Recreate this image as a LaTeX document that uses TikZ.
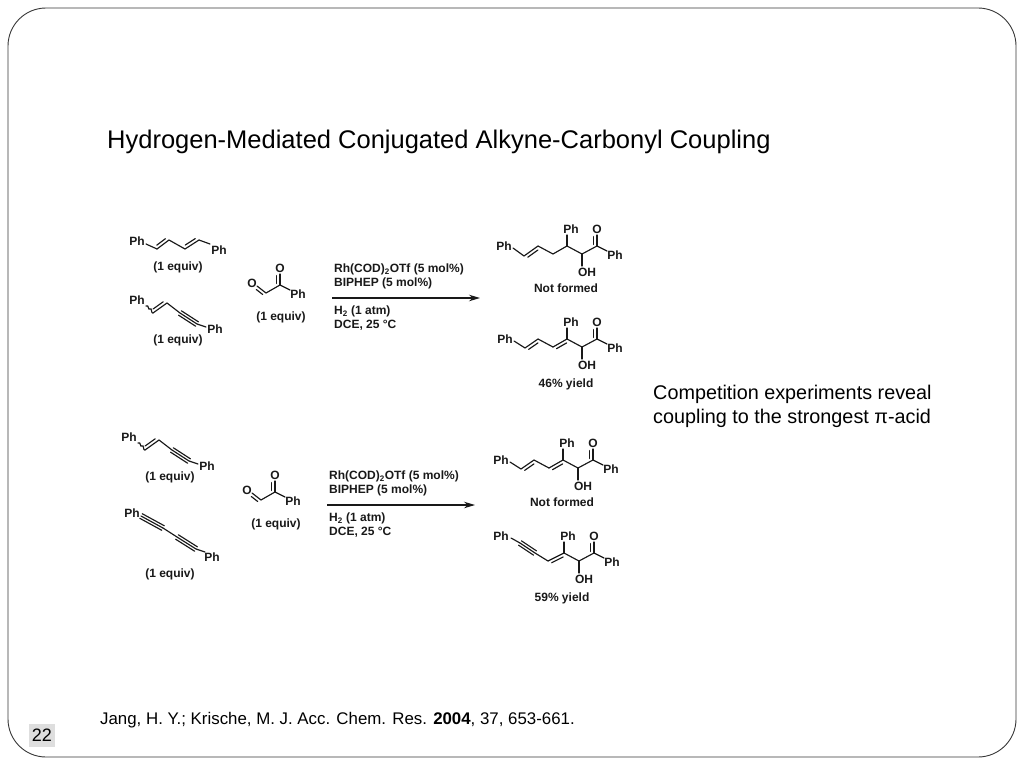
\documentclass[tikz,border=0pt]{standalone}
\usepackage{fontspec}
\setmainfont{Liberation Sans}
\usetikzlibrary{calc,arrows.meta}
\tikzset{
  bond/.style={line width=1.15pt,line cap=round,color=black!90},
  chem/.style={font=\fontsize{12}{14}\selectfont\bfseries,inner sep=0pt,text=black!90},
  lead/.style={chem,anchor=west},
  body/.style={font=\fontsize{19.8}{24}\selectfont,inner sep=0pt,anchor=west,text=black},
  rxn/.style={line width=1.2pt,-{Stealth[length=11pt,width=6.5pt]},color=black!90},
}
% double bond: main line plus a shorter parallel line on side #3 (+1 or -1)
\newcommand{\dbond}[3]{%
  \draw[bond] (#1) -- (#2);
  \draw[bond] ($(#1)!.14!(#2)!#3*3.2pt!90:(#2)$) -- ($(#2)!.14!(#1)!#3*-3.2pt!90:(#1)$);}
\newcommand{\tbond}[2]{%
  \draw[bond] (#1) -- (#2);
  \draw[bond] ($(#1)!2.6pt!90:(#2)$) -- ($(#2)!-2.6pt!90:(#1)$);
  \draw[bond] ($(#1)!-2.6pt!90:(#2)$) -- ($(#2)!2.6pt!90:(#1)$);}
% common right half of the products
\newcommand{\tail}[1]{%
  \node[chem] (#1ph) at (571,229) {Ph};
  \node[chem] (#1o) at (597,229) {O};
  \node[chem] (#1oh) at (587,272) {OH};
  \node[chem] (#1phb) at (615,255) {Ph};
  \coordinate (#1a) at (567,246);
  \coordinate (#1b) at (582,254);
  \coordinate (#1c) at (597,246);
  \draw[bond] (#1a) -- (567,235);
  \draw[bond] (#1a) -- (#1b) -- (#1c) -- (607,251);
  \draw[bond] (#1b) -- (582,266);
  \dbond{#1c}{597,235}{1}}
% glyoxal
\newcommand{\glyox}[1]{%
  \node[chem] (#1o) at (252,283) {O};
  \node[chem] (#1p) at (280,268) {O};
  \node[chem] (#1ph) at (298,294) {Ph};
  \node[chem] (#1l) at (281,317) {(1 equiv)};
  \coordinate (#1a) at (266,293);
  \coordinate (#1b) at (280,285);
  \dbond{257,286}{#1a}{-1}
  \draw[bond] (#1a) -- (#1b) -- (290,290);
  \dbond{#1b}{280,274}{1}}
% conditions
\newcommand{\cond}[1]{%
  \node[lead] (#1a) at (334,269.5) {Rh(COD)\textsubscript{2}OTf (5 mol\%)};
  \node[lead] (#1b) at (334,283.5) {BIPHEP (5 mol\%)};
  \node[lead] (#1c) at (334,311.5) {H\textsubscript{2} (1 atm)};
  \node[lead] (#1d) at (334,325.5) {DCE, 25 °C};
  \coordinate (#1s) at (332,298);
  \coordinate (#1e) at (480,298);
  \draw[rxn] (#1s) -- (#1e);}
% enyne with wavy bond
\newcommand{\enyne}[1]{%
  \node[chem] (#1p) at (137,300) {Ph};
  \node[chem] (#1q) at (215,329) {Ph};
  \node[chem] (#1l) at (178,340.5) {(1 equiv)};
  \coordinate (#1w) at (146,306);
  \coordinate (#1a) at (153,313);
  \coordinate (#1b) at (167,303);
  \coordinate (#1c) at (180,313);
  \coordinate (#1d) at (197,324);
  \draw[bond] (#1w) .. controls (149,304) and (148,311) .. (150,309) .. controls (152,307) and (151,314) .. (#1a);
  \dbond{#1a}{#1b}{1}
  \draw[bond] (#1b) -- (#1c);
  \tbond{#1c}{#1d}
  \draw[bond] (#1d) -- (206,327);}
\begin{document}
\begin{tikzpicture}[x=1pt,y=-1pt]
\useasboundingbox (0,0) rectangle (1024,768);
\fill[white] (0,0) rectangle (1024,768);
\draw[line width=.9pt,color=black!78,rounded corners=38pt] (8,8) rectangle (1016,757);
\node[fill=black!13,minimum width=26pt,minimum height=23pt,inner sep=0pt,font=\fontsize{18}{22}\selectfont] (pg) at (42,735) {22};
\node[body,font=\fontsize{25.5}{30}\selectfont] (title) at (107,142) {Hydrogen-Mediated Conjugated Alkyne-Carbonyl Coupling};
\node[body] (note1) at (653,394) {Competition experiments reveal};
\node[body] (note2) at (653,418) {coupling to the strongest π-acid};
\node[body,font=\fontsize{16.85}{20}\selectfont] (cite) at (100,720) {Jang, H. Y.; Krische, M. J. Acc. Chem. Res. \textbf{2004}, 37, 653-661.};

% diene
\node[chem] (dp) at (137,241) {Ph};
\node[chem] (dq) at (219,250) {Ph};
\node[chem] (dl) at (178,267.5) {(1 equiv)};
\draw[bond] (146,244) -- (157,249);
\dbond{157,249}{169,240}{1}
\draw[bond] (169,240) -- (185,249);
\dbond{185,249}{199,240}{1}
\draw[bond] (199,240) -- (210,244);

\enyne{e}
\glyox{g}
\cond{c}

% product A
\node[chem] (ap) at (504,246) {Ph};
\draw[bond] (513,248) -- (524,256);
\dbond{524,256}{538,246}{-1}
\draw[bond] (538,246) -- (553,254) -- (567,246);
\tail{a}
\node[chem] (al) at (566,288) {Not formed};

% product B
\begin{scope}[shift={(0,93)}]
\node[chem] (bp) at (505,246) {Ph};
\draw[bond] (514,248) -- (525,255);
\dbond{525,255}{538,246}{-1}
\draw[bond] (538,246) -- (553,254);
\dbond{553,254}{567,246}{-1}
\tail{b}
\node[chem] (bl) at (566,291.5) {46\% yield};
\end{scope}

% lower row
\begin{scope}[shift={(-8,137)}]
\enyne{f}
\end{scope}
\begin{scope}[shift={(-5,207)}]
\glyox{h}
\cond{k}
\end{scope}

% diyne
\node[chem] (yp) at (132,513) {Ph};
\node[chem] (yq) at (212,557) {Ph};
\node[chem] (yl) at (170,574.5) {(1 equiv)};
\coordinate (y1) at (141,516);
\coordinate (y2) at (163,528);
\coordinate (y3) at (177,537);
\coordinate (y4) at (196,549);
\coordinate (y5) at (205,552);
\tbond{y1}{y2}
\draw[bond] (y2) -- (y3);
\tbond{y3}{y4}
\draw[bond] (y4) -- (y5);

% product C
\begin{scope}[shift={(-4,214)}]
\node[chem] (cp) at (505,246) {Ph};
\draw[bond] (514,248) -- (525,255);
\dbond{525,255}{538,246}{-1}
\draw[bond] (538,246) -- (553,254);
\dbond{553,254}{567,246}{-1}
\tail{m}
\node[chem] (ml) at (566,288) {Not formed};
\end{scope}

% product D
\begin{scope}[shift={(-3,307)}]
\node[chem] (dpp) at (504,229) {Ph};
\coordinate (t1) at (514,231);
\coordinate (t2) at (523,236);
\coordinate (t3) at (538,246);
\coordinate (t4) at (551,254);
\draw[bond] (t1) -- (t2);
\tbond{t2}{t3}
\draw[bond] (t3) -- (t4);
\dbond{t4}{567,246}{-1}
\tail{n}
\node[chem] (nl) at (565,291.5) {59\% yield};
\end{scope}
\end{tikzpicture}
\end{document}
